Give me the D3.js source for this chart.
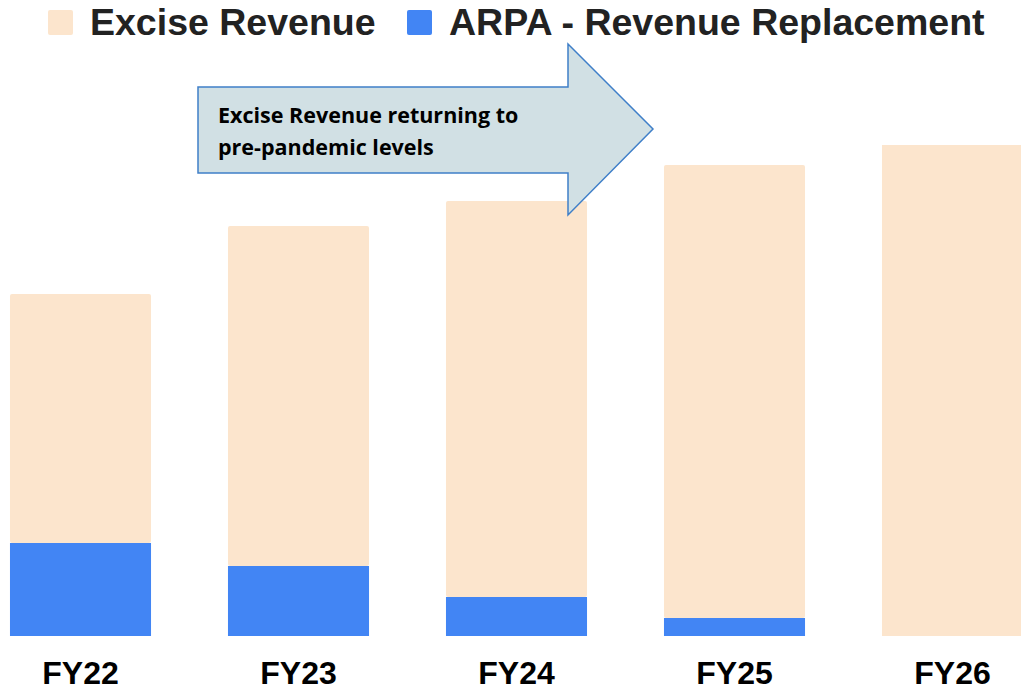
<!DOCTYPE html>
<html>
<head>
<meta charset="utf-8">
<script src="https://cdn.jsdelivr.net/npm/d3@7"></script>
<style>
  body { margin: 0; background: #fff; }
  svg { display: block; }
</style>
</head>
<body>
<svg id="chart" width="1021" height="687"></svg>
<script>
// values (arbitrary units, bar heights)
var years = ["FY22", "FY23", "FY24", "FY25", "FY26"];
var arpa = [93, 70, 39, 18, 0];
var excise = [249, 340, 396, 453, 491];
var seriesNames = ["ARPA - Revenue Replacement", "Excise Revenue"];
var legendOrder = ["Excise Revenue", "ARPA - Revenue Replacement"];
var colors = { "Excise Revenue": "#fce5cd", "ARPA - Revenue Replacement": "#4285f4" };
var arrowLines = ["Excise Revenue returning to", "pre-pandemic levels"];

var width = 1021, height = 687;
var svg = d3.select("#chart");

var rows = years.map(function (y, i) {
    return { year: y, "ARPA - Revenue Replacement": arpa[i], "Excise Revenue": excise[i] };
});
var stack = d3.stack().keys(seriesNames);
var layers = stack(rows);

var x = d3.scaleBand()
    .domain(years)
    .range([-28.5, 1061.5])
    .paddingInner(0.353)
    .paddingOuter(0.1765);
var y = d3.scaleLinear().domain([0, 500]).range([636, 136]);

// bars
svg.append("g").selectAll("g")
    .data(layers)
    .join("g")
    .attr("fill", function (d) { return colors[d.key]; })
    .selectAll("rect")
    .data(function (d) { return d.filter(function (p) { return p[1] - p[0] > 0; }); })
    .join("rect")
    .attr("x", function (d) { return x(d.data.year); })
    .attr("y", function (d) { return y(d[1]); })
    .attr("width", x.bandwidth())
    .attr("height", function (d) { return y(d[0]) - y(d[1]); })
    .attr("rx", function (d) { return d[0] > 0 ? 2 : 0; });

// x axis labels
var xAxis = svg.append("g")
    .attr("transform", "translate(0,684)")
    .call(d3.axisBottom(x).tickSize(0).tickPadding(0));
xAxis.select(".domain").remove();
xAxis.selectAll("text")
    .attr("dy", 0)
    .attr("y", 0)
    .attr("fill", "#000")
    .style("font-family", "'Liberation Sans', Arial, sans-serif")
    .style("font-weight", "bold")
    .style("font-size", "32px");

// legend
var legendX = [48, 407];
var legend = svg.append("g").selectAll("g")
    .data(legendOrder)
    .join("g")
    .attr("transform", function (d, i) { return "translate(" + legendX[i] + ",0)"; });
legend.append("rect")
    .attr("x", 0).attr("y", 10)
    .attr("width", 25).attr("height", 25)
    .attr("rx", 2)
    .attr("fill", function (d) { return colors[d]; });
legend.append("text")
    .attr("x", 42).attr("y", 35)
    .attr("fill", "#222")
    .style("font-family", "'Liberation Sans', Arial, sans-serif")
    .style("font-weight", "bold")
    .style("font-size", "37.5px")
    .text(function (d) { return d; });

// annotation arrow
var arrowPts = [[198, 87], [568, 87], [568, 44], [653, 129], [568, 215], [568, 173], [198, 173]];
svg.append("path")
    .attr("d", d3.line()(arrowPts) + "Z")
    .attr("fill", "#d1e0e4")
    .attr("stroke", "#3f7fc8")
    .attr("stroke-width", 1.5);
var note = svg.append("text")
    .attr("fill", "#000")
    .style("font-family", "'Open Sans', sans-serif")
    .style("font-weight", "bold")
    .style("font-size", "21.5px");
note.selectAll("tspan")
    .data(arrowLines)
    .join("tspan")
    .attr("x", 218)
    .attr("y", function (d, i) { return 123 + i * 32; })
    .text(function (d) { return d; });
</script>
</body>
</html>
